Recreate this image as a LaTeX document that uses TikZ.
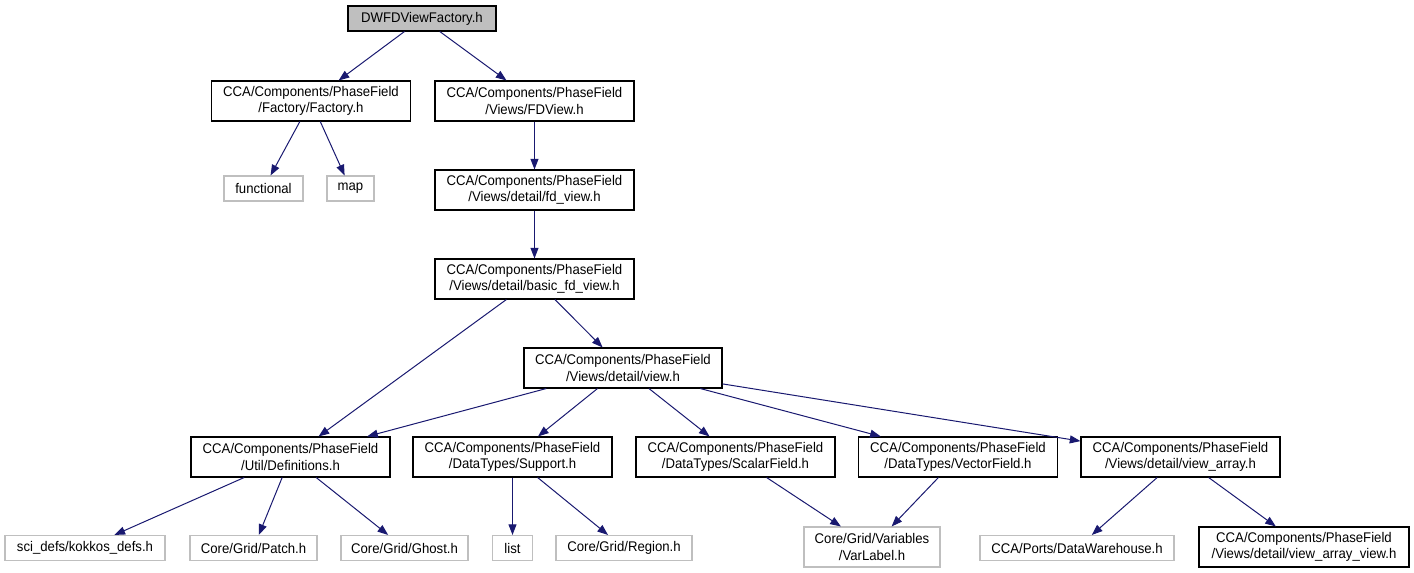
\documentclass[tikz,border=0pt]{standalone}
\usepackage{fontspec}
\setmainfont{Liberation Sans}[FakeStretch=0.94]
\usetikzlibrary{arrows.meta}
\definecolor{edgeblue}{HTML}{191970}
\definecolor{sysgray}{HTML}{BFBFBF}

\begin{document}
\begin{tikzpicture}[x=0.75pt, y=-0.75pt, >={Triangle[length=8pt,width=6pt]},
    hdr/.style={draw=black, line width=0.8pt, align=center, inner sep=0pt,
        minimum width=149.25pt, minimum height=30pt, font=\fontsize{10.5}{12.4}\selectfont},
    sys/.style={hdr, draw=sysgray, minimum height=18.75pt},
    dep/.style={->, draw=edgeblue, line width=0.75pt}]
    \useasboundingbox (0,0) rectangle (1414,573);

    \node[hdr, fill=sysgray, minimum width=111pt, minimum height=18.75pt] (root) at (422,18.5) {DWFDViewFactory.h};
    \node[hdr] (factory) at (311,101) {CCA/Components/PhaseField\\/Factory/Factory.h};
    \node[hdr] (fdview) at (534.5,101) {CCA/Components/PhaseField\\/Views/FDView.h};
    \node[sys, minimum width=59.25pt] (functional) at (263.5,188.5) {functional};
    \node[sys, minimum width=35.25pt] (map) at (350.5,188.5) {map};
    \node[hdr] (fdv) at (534.5,190) {CCA/Components/PhaseField\\/Views/detail/fd\_view.h};
    \node[hdr] (basic) at (534.5,279) {CCA/Components/PhaseField\\/Views/detail/basic\_fd\_view.h};
    \node[hdr, minimum width=148.5pt] (view) at (623,368) {CCA/Components/PhaseField\\/Views/detail/view.h};

    \node[hdr] (defs) at (290.5,457) {CCA/Components/PhaseField\\/Util/Definitions.h};
    \node[hdr] (support) at (512.5,457) {CCA/Components/PhaseField\\/DataTypes/Support.h};
    \node[hdr] (scalar) at (735.5,457) {CCA/Components/PhaseField\\/DataTypes/ScalarField.h};
    \node[hdr] (vector) at (958,457) {CCA/Components/PhaseField\\/DataTypes/VectorField.h};
    \node[hdr] (array) at (1180.5,457) {CCA/Components/PhaseField\\/Views/detail/view\_array.h};

    \node[sys, minimum width=120pt] (scidefs) at (85,548) {sci\_defs/kokkos\_defs.h};
    \node[sys, minimum width=95.25pt] (patch) at (253.5,548) {Core/Grid/Patch.h};
    \node[sys, minimum width=95.25pt] (ghost) at (404.5,548) {Core/Grid/Ghost.h};
    \node[sys, minimum width=30pt] (list) at (512.5,548) {list};
    \node[sys, minimum width=102pt] (region) at (624,548) {Core/Grid/Region.h};
    \node[sys, minimum width=102pt, minimum height=30pt] (varlabel) at (872,547) {Core/Grid/Variables\\/VarLabel.h};
    \node[sys, minimum width=145.5pt] (dw) at (1077,548) {CCA/Ports/DataWarehouse.h};
    \node[hdr, minimum width=157.5pt] (arrayview) at (1304,547) {CCA/Components/PhaseField\\/Views/detail/view\_array\_view.h};

    \draw[dep] (root) -- (factory);
    \draw[dep] (root) -- (fdview);
    \draw[dep] (factory) -- (functional);
    \draw[dep] (factory) -- (map);
    \draw[dep] (fdview) -- (fdv);
    \draw[dep] (fdv) -- (basic);
    \draw[dep] (basic) -- (defs);
    \draw[dep] (basic) -- (view);
    \draw[dep] (view) -- (defs);
    \draw[dep] (view) -- (support);
    \draw[dep] (view) -- (scalar);
    \draw[dep] (view) -- (vector);
    \draw[dep] (view) -- (array);
    \draw[dep] (defs) -- (scidefs);
    \draw[dep] (defs) -- (patch);
    \draw[dep] (defs) -- (ghost);
    \draw[dep] (support) -- (list);
    \draw[dep] (support) -- (region);
    \draw[dep] (scalar) -- (varlabel);
    \draw[dep] (vector) -- (varlabel);
    \draw[dep] (array) -- (dw);
    \draw[dep] (array) -- (arrayview);
\end{tikzpicture}
\end{document}
